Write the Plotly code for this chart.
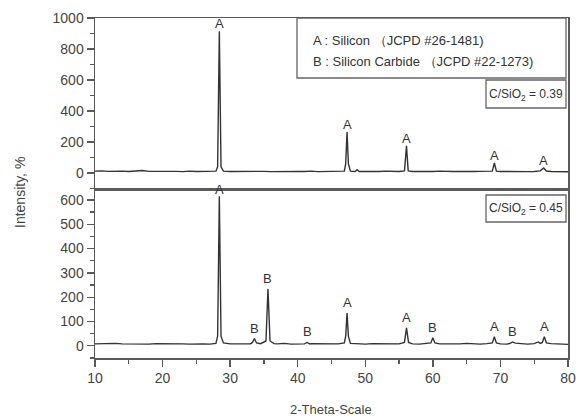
import plotly.graph_objects as go

# ---------------- data ----------------
# upper pattern, C/SiO2 = 0.39
top_x = [10, 11, 12, 13, 14, 15, 16, 17, 18, 19, 20, 21, 22, 23, 24, 25, 26, 27, 27.9,
         28.15, 28.4, 28.65, 29.0, 30, 31, 32, 33, 34, 35, 36, 37, 38, 39, 40, 41, 42, 43,
         44, 45, 46, 46.9, 47.1, 47.3, 47.5, 47.8, 48.5, 48.8, 49.1, 50, 51, 52, 53, 54, 55,
         55.8, 56.1, 56.35, 57, 58, 59, 60, 61, 62, 63, 64, 65, 66, 67, 68, 68.8, 69.1,
         69.4, 70, 71, 72, 73, 74, 75, 75.9, 76.4, 76.8, 77.5, 78, 79, 80]
top_y = [12, 14, 11, 13, 12, 10, 13, 16, 11, 12, 10, 12, 11, 9, 12, 10, 11, 9, 12,
         40, 915, 40, 12, 10, 11, 9, 12, 10, 11, 9, 10, 12, 9, 11, 10, 12, 9,
         10, 11, 9, 12, 60, 265, 60, 12, 10, 22, 10, 9, 11, 10, 12, 9, 10,
         14, 175, 14, 10, 11, 9, 10, 12, 9, 10, 11, 9, 10, 11, 9, 12, 65,
         12, 10, 9, 11, 10, 9, 10, 14, 32, 13, 10, 9, 11, 8]

# lower pattern, C/SiO2 = 0.45
bot_x = [10, 11, 12, 13, 14, 15, 16, 17, 18, 19, 20, 21, 22, 23, 24, 25, 26, 27, 27.9,
         28.15, 28.4, 28.65, 29.0, 30, 31, 32, 33, 33.3, 33.6, 33.9, 34.5, 35.3, 35.6,
         35.9, 36.5, 37, 38, 39, 40, 41, 41.4, 41.8, 42, 43, 44, 45, 46, 46.9, 47.1, 47.3,
         47.5, 47.8, 49, 50, 51, 52, 53, 54, 55, 55.8, 56.1, 56.4, 57, 58, 59, 59.7, 60.0,
         60.3, 61, 62, 63, 64, 65, 66, 67, 68, 68.8, 69.1, 69.4, 70, 71, 71.5, 71.8, 72.2,
         73, 74, 75, 75.3, 75.6, 75.9, 76.2, 76.5, 76.8, 77.5, 78, 79, 80]
bot_y = [8, 9, 7, 10, 8, 7, 9, 8, 7, 9, 8, 7, 9, 8, 7, 9, 8, 7, 10,
         40, 615, 40, 12, 8, 7, 9, 8, 14, 30, 12, 9, 20, 234,
         20, 9, 8, 10, 7, 9, 8, 14, 8, 9, 8, 7, 9, 8, 12, 40, 135,
         40, 10, 8, 7, 9, 8, 7, 9, 8, 14, 74, 14, 8, 7, 9, 12, 33,
         12, 8, 7, 9, 8, 10, 8, 7, 9, 12, 37, 12, 8, 7, 11, 16, 11,
         8, 7, 9, 12, 16, 10, 14, 37, 12, 9, 8, 7, 6]

# peak labels
top_lab_x = [28.4, 47.3, 56.1, 69.1, 76.4]
top_lab_y = [915, 265, 175, 65, 32]
top_lab_t = ["A", "A", "A", "A", "A"]

bot_lab_x = [28.4, 33.6, 35.6, 41.4, 47.3, 56.1, 60.0, 69.1, 71.8, 76.5]
bot_lab_y = [600, 30, 234, 14, 135, 74, 33, 37, 16, 37]
bot_lab_t = ["A", "B", "B", "B", "A", "A", "B", "A", "B", "A"]

x_ticks = [10, 20, 30, 40, 50, 60, 70, 80]
top_ticks = [0, 200, 400, 600, 800, 1000]
bot_ticks = [0, 100, 200, 300, 400, 500, 600]

legend_lines = ["A : Silicon （JCPD #26-1481)", "B : Silicon Carbide （JCPD #22-1273)"]
ratio_labels = ["C/SiO<sub>2</sub> = 0.39", "C/SiO<sub>2</sub> = 0.45"]

# ---------------- figure ----------------
W, H = 577, 419
PL, PR, PT, PB = 95, 568, 18, 358          # plot area in pixels
ML, MT, MR, MB = PL, PT, W - PR, H - PB
PW, PH = PR - PL, PB - PT


def px(x):
    return (x - PL) / PW


def py(y):
    return (PB - y) / PH


FONT = "Liberation Sans, Arial, sans-serif"
LINE = "#333333"
AX = "#5a5a5a"
split = py(189)

fig = go.Figure()
fig.add_trace(go.Scatter(x=top_x, y=top_y, mode="lines", xaxis="x2", yaxis="y2",
                         line=dict(color=LINE, width=1.4), showlegend=False,
                         hoverinfo="skip"))
fig.add_trace(go.Scatter(x=bot_x, y=bot_y, mode="lines", xaxis="x", yaxis="y",
                         line=dict(color=LINE, width=1.4), showlegend=False,
                         hoverinfo="skip"))

ann = []
for x, y, t in zip(top_lab_x, top_lab_y, top_lab_t):
    ann.append(dict(x=x, y=y, xref="x2", yref="y2", text=t, showarrow=False,
                    xanchor="center", yanchor="bottom", yshift=-2,
                    font=dict(size=13, color="#333")))
for x, y, t in zip(bot_lab_x, bot_lab_y, bot_lab_t):
    ann.append(dict(x=x, y=y, xref="x", yref="y", text=t, showarrow=False,
                    xanchor="center", yanchor="bottom", yshift=1,
                    font=dict(size=13, color="#333")))

# legend text box
for i, t in enumerate(legend_lines):
    ann.append(dict(x=px(311), y=py(41 + 21 * i), xref="paper", yref="paper", text=t,
                    showarrow=False, xanchor="left", yanchor="middle",
                    font=dict(size=13, color="#333")))
ann.append(dict(x=px(526), y=py(95), xref="paper", yref="paper", text=ratio_labels[0],
                showarrow=False, xanchor="center", yanchor="middle",
                font=dict(size=12, color="#333")))
ann.append(dict(x=px(526), y=py(209), xref="paper", yref="paper", text=ratio_labels[1],
                showarrow=False, xanchor="center", yanchor="middle",
                font=dict(size=12, color="#333")))
# axis titles
ann.append(dict(x=px(20), y=py(193), xref="paper", yref="paper", text="Intensity, %",
                showarrow=False, textangle=-90, xanchor="center", yanchor="middle",
                font=dict(size=14, color="#444")))
ann.append(dict(x=px(331), y=py(410), xref="paper", yref="paper", text="2-Theta-Scale",
                showarrow=False, xanchor="center", yanchor="middle",
                font=dict(size=13, color="#444")))

shapes = [
    dict(type="rect", xref="paper", yref="paper", x0=px(297), x1=px(566), y0=py(78), y1=py(18),
         line=dict(color="#666", width=1.3), fillcolor="white", layer="below"),
    dict(type="rect", xref="paper", yref="paper", x0=px(486), x1=px(566), y0=py(108), y1=py(80),
         line=dict(color="#666", width=1.3), fillcolor="white", layer="below"),
    dict(type="rect", xref="paper", yref="paper", x0=px(486), x1=px(566), y0=py(222), y1=py(195),
         line=dict(color="#666", width=1.3), fillcolor="white", layer="below"),
]

tickfont = dict(family=FONT, size=14, color="#444")

fig.update_layout(
    width=W, height=H,
    margin=dict(l=ML, r=MR, t=MT, b=MB, autoexpand=False),
    paper_bgcolor="white", plot_bgcolor="white",
    font=dict(family=FONT, color="#444"),
    annotations=ann, shapes=shapes, showlegend=False, hovermode=False,
    xaxis=dict(domain=[0, 1], range=[10, 80], anchor="y", tickvals=x_ticks,
               ticks="outside", ticklen=7, tickwidth=1.3, tickcolor=AX,
               ticklabeloverflow="allow",
               minor=dict(dtick=5, ticks="outside", ticklen=4, tickwidth=1.3, tickcolor=AX),
               showline=True, linecolor=AX, linewidth=1.5, mirror=True,
               showgrid=False, zeroline=False, tickfont=tickfont),
    yaxis=dict(domain=[0, split], range=[-50, 645], anchor="x", tickvals=bot_ticks,
               ticks="outside", ticklen=7, tickwidth=1.3, tickcolor=AX,
               minor=dict(dtick=50, ticks="outside", ticklen=4, tickwidth=1.3, tickcolor=AX),
               showline=True, linecolor=AX, linewidth=1.5, mirror=True,
               showgrid=False, zeroline=False, tickfont=tickfont),
    xaxis2=dict(domain=[0, 1], range=[10, 80], anchor="y2", showticklabels=False,
                ticks="", showline=True, linecolor=AX, linewidth=1.5, mirror=True,
                showgrid=False, zeroline=False),
    yaxis2=dict(domain=[split, 1], range=[-103, 1000], anchor="x2", tickvals=top_ticks,
                ticks="outside", ticklen=7, tickwidth=1.3, tickcolor=AX,
                minor=dict(dtick=100, ticks="outside", ticklen=4, tickwidth=1.3, tickcolor=AX),
                showline=True, linecolor=AX, linewidth=1.5, mirror=True,
                showgrid=False, zeroline=False, tickfont=tickfont),
)

fig.write_html("out.html", config={"responsive": False, "displayModeBar": False,
                                   "staticPlot": True},
               post_script="document.body.style.margin='0px';document.body.style.overflow='hidden';")
